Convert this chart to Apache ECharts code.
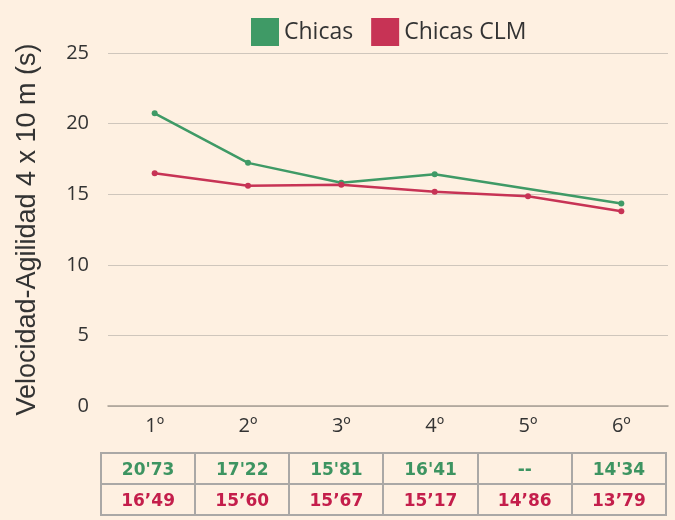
<!DOCTYPE html>
<html>
<head>
<meta charset="utf-8">
<script src="https://cdn.jsdelivr.net/npm/echarts@6/dist/echarts.min.js"></script>
<style>
  body { margin: 0; background: #fef0e1; }
  #chart { width: 675px; height: 520px; position: relative; }
  #tabla {
    position: absolute; left: 100px; top: 452px; width: 567px;
    border-collapse: collapse; table-layout: fixed;
    font-family: "DejaVu Sans", sans-serif; font-weight: bold; font-size: 17px;
  }
  #tabla td { border: 2px solid #aaa8a6; height: 29px; text-align: center; padding: 0; }
</style>
</head>
<body>
<div id="chart"></div>
<table id="tabla"></table>
<script>
  var categorias = ['1º', '2º', '3º', '4º', '5º', '6º']
  var chicas = [20.73, 17.22, 15.81, 16.41, null, 14.34]
  var chicasCLM = [16.49, 15.60, 15.67, 15.17, 14.86, 13.79]
  var textoChicas = ["20'73", "17'22", "15'81", "16'41", "--", "14'34"]
  var textoCLM = ['16’49', '15’60', '15’67', '15’17', '14’86', '13’79']

  var verde = '#3f9a66'
  var rojo = '#c73355'

  var myChart = echarts.init(document.getElementById('chart'))
  var option = {
    backgroundColor: '#fef0e1',
    animation: false,
    textStyle: { fontFamily: 'Open Sans' },
    legend: {
      top: 13,
      left: 246,
      itemWidth: 28,
      itemHeight: 28,
      itemGap: 18,
      icon: 'rect',
      textStyle: { fontSize: 23, color: '#333', fontFamily: 'Open Sans' },
      data: ['Chicas', 'Chicas CLM']
    },
    grid: { left: 108, right: 7, top: 53, bottom: 114 },
    xAxis: {
      type: 'category',
      data: categorias,
      axisTick: { show: false },
      axisLine: { lineStyle: { color: '#a89e94', width: 1.5 } },
      axisLabel: { fontSize: 20, color: '#333', margin: 10 }
    },
    yAxis: {
      type: 'value',
      min: 0,
      max: 25,
      interval: 5,
      name: 'Velocidad-Agilidad 4 x 10 m (s)',
      nameLocation: 'middle',
      nameGap: 67,
      nameTextStyle: { fontSize: 27, color: '#333', fontFamily: 'Liberation Sans' },
      axisLabel: { fontSize: 20, color: '#333', margin: 19 },
      splitLine: { lineStyle: { color: '#cfc6bc' } }
    },
    series: [
      {
        name: 'Chicas',
        type: 'line',
        data: chicas,
        connectNulls: true,
        symbol: 'circle',
        symbolSize: 6,
        color: verde,
        lineStyle: { width: 2.5 }
      },
      {
        name: 'Chicas CLM',
        type: 'line',
        data: chicasCLM,
        symbol: 'circle',
        symbolSize: 6,
        color: rojo,
        lineStyle: { width: 2.5 }
      }
    ]
  }
  myChart.setOption(option)

  // tabla de valores bajo el eje
  var tabla = document.getElementById('tabla')
  function fila(textos, color) {
    var tr = document.createElement('tr')
    textos.forEach(function (t) {
      var td = document.createElement('td')
      td.textContent = t
      td.style.color = color
      tr.appendChild(td)
    })
    tabla.appendChild(tr)
  }
  fila(textoChicas, '#3d9461')
  fila(textoCLM, '#c41e4b')
</script>
</body>
</html>
